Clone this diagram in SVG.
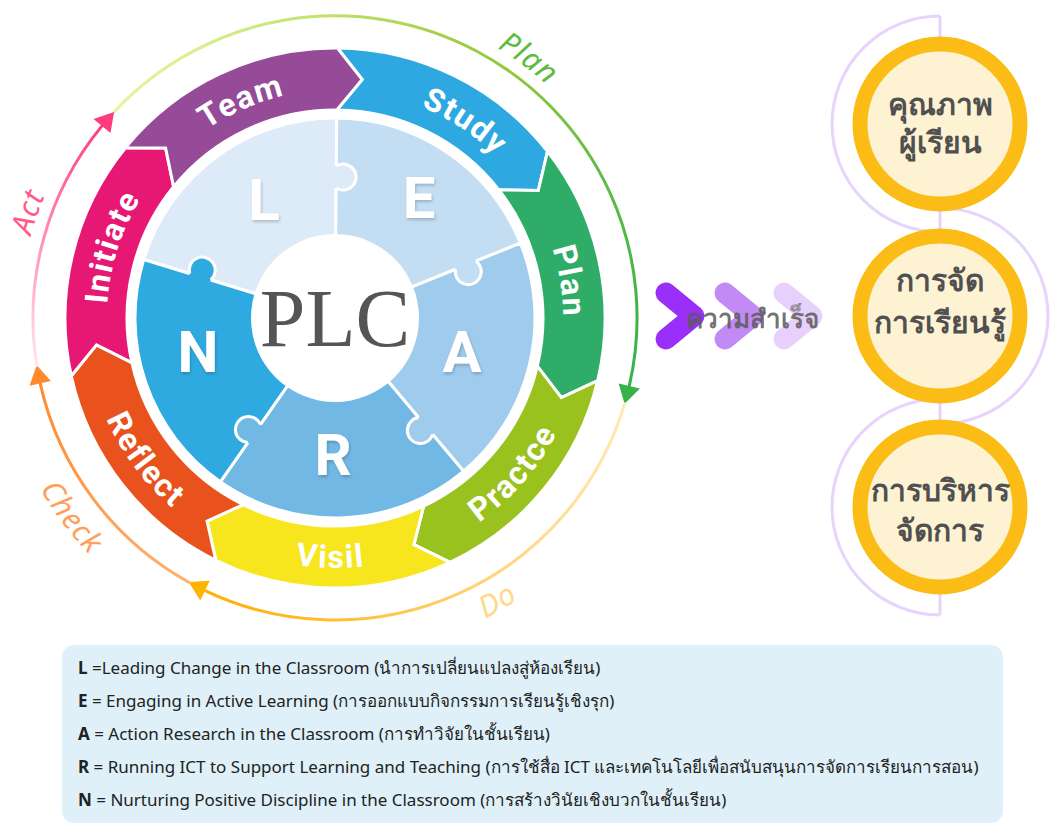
<svg xmlns="http://www.w3.org/2000/svg" width="1057" height="831" viewBox="0 0 1057 831">
<style>
.seg{stroke:#fff;stroke-width:3;stroke-linejoin:miter}
.segtxt{font-family:Roboto,"Noto Sans",sans-serif;font-weight:700;font-size:32px;fill:#fff;letter-spacing:1.5px}
.pz{stroke:#fff;stroke-width:3;stroke-linejoin:round}
.knob{fill:none;stroke:#fff;stroke-width:3}
.pzl{font-family:Roboto,"Noto Sans",sans-serif;font-weight:700;font-size:58px;fill:#fff;text-anchor:middle}
.lbl{font-family:"Noto Sans",sans-serif;font-style:italic;font-size:30px;text-anchor:middle;letter-spacing:1px}
.arc{fill:none;stroke-width:3;stroke-linecap:round}
.chev{fill:none;stroke-width:21;stroke-linecap:round;stroke-linejoin:round}
.ring{fill:#FDF2D2;stroke:#FBBC15;stroke-width:15}
.th{font-family:"Noto Sans",sans-serif;font-weight:700;font-size:30px;fill:#505050;text-anchor:middle}
.deco{fill:none;stroke:#E7D4FC;stroke-width:3}
.leg{font-family:"Noto Sans",sans-serif;font-size:17px;fill:#222}
</style>
<defs>
<path id="cwT" d="M 335,546 A 228 228 0 1 1 335,90 A 228 228 0 1 1 335,546"/>
<path id="ccwT" d="M 335,68 A 250 250 0 1 0 335,568 A 250 250 0 1 0 335,68"/>
<path id="cwL" d="M 335,633 A 315 315 0 1 1 335,3 A 315 315 0 1 1 335,633"/>
<path id="ccwL" d="M 335,-18 A 336 336 0 1 0 335,654 A 336 336 0 1 0 335,-18"/>
<path id="ccwC" d="M 335,-23 A 341 341 0 1 0 335,659 A 341 341 0 1 0 335,-23"/>
<linearGradient id="gPlan" gradientUnits="userSpaceOnUse" x1="114" y1="112" x2="629" y2="386">
<stop offset="0" stop-color="#E2F59C"/><stop offset="0.5" stop-color="#9CCB3B"/><stop offset="1" stop-color="#36B24A"/></linearGradient>
<linearGradient id="gDo" gradientUnits="userSpaceOnUse" x1="625" y1="404" x2="205" y2="591">
<stop offset="0" stop-color="#FFEAB2"/><stop offset="0.5" stop-color="#FFD070"/><stop offset="1" stop-color="#FFB000"/></linearGradient>
<linearGradient id="gCheck" gradientUnits="userSpaceOnUse" x1="189" y1="582" x2="40" y2="383">
<stop offset="0" stop-color="#FFB070"/><stop offset="1" stop-color="#FF8A2E"/></linearGradient>
<linearGradient id="gAct" gradientUnits="userSpaceOnUse" x1="37" y1="365" x2="102" y2="126">
<stop offset="0" stop-color="#FFE6EE"/><stop offset="1" stop-color="#FF3B7C"/></linearGradient>
<filter id="sh" x="-20%" y="-20%" width="140%" height="140%"><feDropShadow dx="1" dy="2" stdDeviation="1.5" flood-color="#000" flood-opacity="0.2"/></filter>
</defs>
<rect width="1057" height="831" fill="#fff"/>

<g id="cycle-connectors">
<path class="arc" stroke="url(#gPlan)" d="M 114.1,112.0 A 302 302 0 0 1 629.3,385.9"/>
<polygon fill="#36B24A" points="624.6,403.8 640.0,388.4 618.6,383.4"/>
<path class="arc" stroke="url(#gDo)" d="M 624.6,403.8 A 302 302 0 0 1 205.0,590.6"/>
<polygon fill="#FFB400" points="188.6,582.1 200.3,600.5 209.7,580.7"/>
<path class="arc" stroke="url(#gCheck)" d="M 188.6,582.1 A 302 302 0 0 1 40.2,383.4"/>
<polygon fill="#FF8A2E" points="36.7,365.2 29.5,385.8 50.9,381.0"/>
<path class="arc" stroke="url(#gAct)" d="M 36.7,365.2 A 302 302 0 0 1 102.0,125.9"/>
<polygon fill="#FF3B7C" points="114.1,112.0 93.5,118.9 110.5,132.9"/>
</g>

<g id="cycle-labels">
<text class="lbl" fill="#5DBB3E"><textPath href="#cwL" startOffset="60.2%">Plan</textPath></text>
<text class="lbl" fill="#FF5A8A"><textPath href="#cwL" startOffset="30.3%">Act</textPath></text>
<text class="lbl" fill="#FFA05A"><textPath href="#ccwC" startOffset="35.3%">Check</textPath></text>
<text class="lbl" fill="#FFD98A"><textPath href="#ccwL" startOffset="58.3%">Do</textPath></text>
</g>

<g id="ring">
<g id="seg-study"><path class="seg" fill="#2EA8E0" d="M 337.4,48.0 A 270 270 0 0 1 547.5,151.4 L 538.3,190.5 L 498.7,189.7 A 208 208 0 0 0 336.8,110.0 L 362.2,79.5 Z"/>
<text class="segtxt"><textPath href="#cwT" startOffset="59.3%" text-anchor="middle">Study</textPath></text></g>
<g id="seg-plan"><path class="seg" fill="#2FAD68" d="M 547.5,151.4 A 270 270 0 0 1 597.7,380.6 L 561.4,397.7 L 537.3,366.2 A 208 208 0 0 0 498.7,189.7 L 538.3,190.5 Z"/>
<text class="segtxt"><textPath href="#cwT" startOffset="72.5%" text-anchor="middle">Plan</textPath></text></g>
<g id="seg-practce"><path class="seg" fill="#99C21E" d="M 597.7,380.6 A 270 270 0 0 1 450.0,562.3 L 413.9,544.7 L 423.6,506.2 A 208 208 0 0 0 537.3,366.2 L 561.4,397.7 Z"/>
<text class="segtxt"><textPath href="#ccwT" startOffset="63.6%" text-anchor="middle">Practce</textPath></text></g>
<g id="seg-visil"><path class="seg" fill="#F7E51E" d="M 450.0,562.3 A 270 270 0 0 1 215.8,560.3 L 207.1,521.1 L 243.2,504.6 A 208 208 0 0 0 423.6,506.2 L 413.9,544.7 Z"/>
<text class="segtxt"><textPath href="#ccwT" startOffset="49.7%" text-anchor="middle">Visil</textPath></text></g>
<g id="seg-reflect"><path class="seg" fill="#E9511D" d="M 215.8,560.3 A 270 270 0 0 1 71.3,376.0 L 96.5,344.8 L 131.9,362.7 A 208 208 0 0 0 243.2,504.6 L 207.1,521.1 Z"/>
<text class="segtxt"><textPath href="#ccwT" startOffset="35.2%" text-anchor="middle">Reflect</textPath></text></g>
<g id="seg-initiate"><path class="seg" fill="#E71874" d="M 71.3,376.0 A 270 270 0 0 1 125.5,147.7 L 165.6,148.0 L 173.6,186.8 A 208 208 0 0 0 131.9,362.7 L 96.5,344.8 Z"/>
<text class="segtxt"><textPath href="#cwT" startOffset="29.9%" text-anchor="middle">Initiate</textPath></text></g>
<g id="seg-team"><path class="seg" fill="#954B97" d="M 125.5,147.7 A 270 270 0 0 1 337.4,48.0 L 362.2,79.5 L 336.8,110.0 A 208 208 0 0 0 173.6,186.8 L 165.6,148.0 Z"/>
<text class="segtxt"><textPath href="#cwT" startOffset="43.5%" text-anchor="middle">Team</textPath></text></g>
</g>

<g id="puzzle">
<path id="pz-L" class="pz" fill="#DDEAF8" d="M 335,318 L 143.7,259.5 A 200 200 0 0 1 336.7,118.0 Z"/>
<path id="pz-E" class="pz" fill="#C3DDF3" d="M 335,318 L 336.7,118.0 A 200 200 0 0 1 520.4,243.1 Z"/>
<path id="pz-A" class="pz" fill="#9FCBEC" d="M 335,318 L 520.4,243.1 A 200 200 0 0 1 463.6,471.2 Z"/>
<path id="pz-R" class="pz" fill="#72B8E4" d="M 335,318 L 463.6,471.2 A 200 200 0 0 1 220.3,481.8 Z"/>
<path id="pz-N" class="pz" fill="#2FAAE1" d="M 335,318 L 220.3,481.8 A 200 200 0 0 1 143.7,259.5 Z"/>
<path fill="#DDEAF8" d="M 333.3,166.0 L 336.3,166.0 A 13 13 0 1 1 336.1,188.0 L 333.1,188.0 Z"/>
<path class="knob" d="M 336.3,166.0 A 13 13 0 1 1 336.1,188.0"/>
<path fill="#C3DDF3" d="M 474.8,258.3 L 475.9,261.1 A 13 13 0 1 1 455.5,269.3 L 454.4,266.5 Z"/>
<path class="knob" d="M 475.9,261.1 A 13 13 0 1 1 455.5,269.3"/>
<path fill="#9FCBEC" d="M 435.0,432.5 L 432.7,434.4 A 13 13 0 1 1 418.5,417.6 L 420.8,415.7 Z"/>
<path class="knob" d="M 432.7,434.4 A 13 13 0 1 1 418.5,417.6"/>
<path fill="#72B8E4" d="M 250.3,444.2 L 247.8,442.5 A 13 13 0 1 1 260.4,424.5 L 262.9,426.2 Z"/>
<path class="knob" d="M 247.8,442.5 A 13 13 0 1 1 260.4,424.5"/>
<path fill="#2FAAE1" d="M 188.8,276.5 L 189.7,273.6 A 13 13 0 1 1 210.7,280.0 L 209.8,282.9 Z"/>
<path class="knob" d="M 189.7,273.6 A 13 13 0 1 1 210.7,280.0"/>
<g filter="url(#sh)">
<text class="pzl" x="264" y="220">L</text>
<text class="pzl" x="419" y="218">E</text>
<text class="pzl" x="462" y="372">A</text>
<text class="pzl" x="333" y="475">R</text>
<text class="pzl" x="198" y="372">N</text>
</g>
</g>

<g id="center">
<circle cx="335" cy="318" r="84" fill="#fff"/>
<text x="335" y="346" font-family="'Liberation Serif',serif" font-size="82" fill="#555" text-anchor="middle">PLC</text>
</g>

<g id="success-arrows">
<path class="chev" stroke="#9B2FFA" d="M 666,293 L 694,316 L 666,339"/>
<path class="chev" stroke="#C18AF4" d="M 725,293 L 753,316 L 725,339"/>
<path class="chev" stroke="#E7D0FB" d="M 784,293 L 812,316 L 784,339"/>
<text x="752" y="328" font-family="'Noto Sans',sans-serif" font-weight="700" font-size="26" fill="#5a5a5a" fill-opacity="0.85" text-anchor="middle">ความสำเร็จ</text>
</g>

<g id="outcomes-deco">
<path class="deco" d="M 940,16 L 940,615"/>
<path class="deco" d="M 940,16 A 108 108 0 0 0 940,232"/>
<path class="deco" d="M 940,208 A 108 108 0 0 1 940,424"/>
<path class="deco" d="M 940,399 A 108 108 0 0 0 940,615"/>
</g>
<g id="outcome-1"><circle class="ring" cx="940" cy="124" r="80"/>
<text class="th" x="940" y="115">คุณภาพ</text><text class="th" x="940" y="153">ผู้เรียน</text></g>
<g id="outcome-2"><circle class="ring" cx="940" cy="316" r="80"/>
<text class="th" x="940" y="291">การจัด</text><text class="th" x="940" y="333">การเรียนรู้</text></g>
<g id="outcome-3"><circle class="ring" cx="940" cy="507" r="80"/>
<text class="th" x="940" y="501">การบริหาร</text><text class="th" x="940" y="541">จัดการ</text></g>

<g id="legend">
<rect x="62" y="645" width="941" height="178" rx="12" fill="#DFF0F8"/>
<text class="leg" x="78" y="674"><tspan font-weight="700">L</tspan> =Leading Change in the Classroom (นำการเปลี่ยนแปลงสู่ห้องเรียน)</text>
<text class="leg" x="78" y="707"><tspan font-weight="700">E</tspan> = Engaging in Active Learning (การออกแบบกิจกรรมการเรียนรู้เชิงรุก)</text>
<text class="leg" x="78" y="740"><tspan font-weight="700">A</tspan> = Action Research in the Classroom (การทำวิจัยในชั้นเรียน)</text>
<text class="leg" x="78" y="773"><tspan font-weight="700">R</tspan> = Running ICT to Support Learning and Teaching (การใช้สื่อ ICT และเทคโนโลยีเพื่อสนับสนุนการจัดการเรียนการสอน)</text>
<text class="leg" x="78" y="806"><tspan font-weight="700">N</tspan> = Nurturing Positive Discipline in the Classroom (การสร้างวินัยเชิงบวกในชั้นเรียน)</text>
</g>
</svg>
